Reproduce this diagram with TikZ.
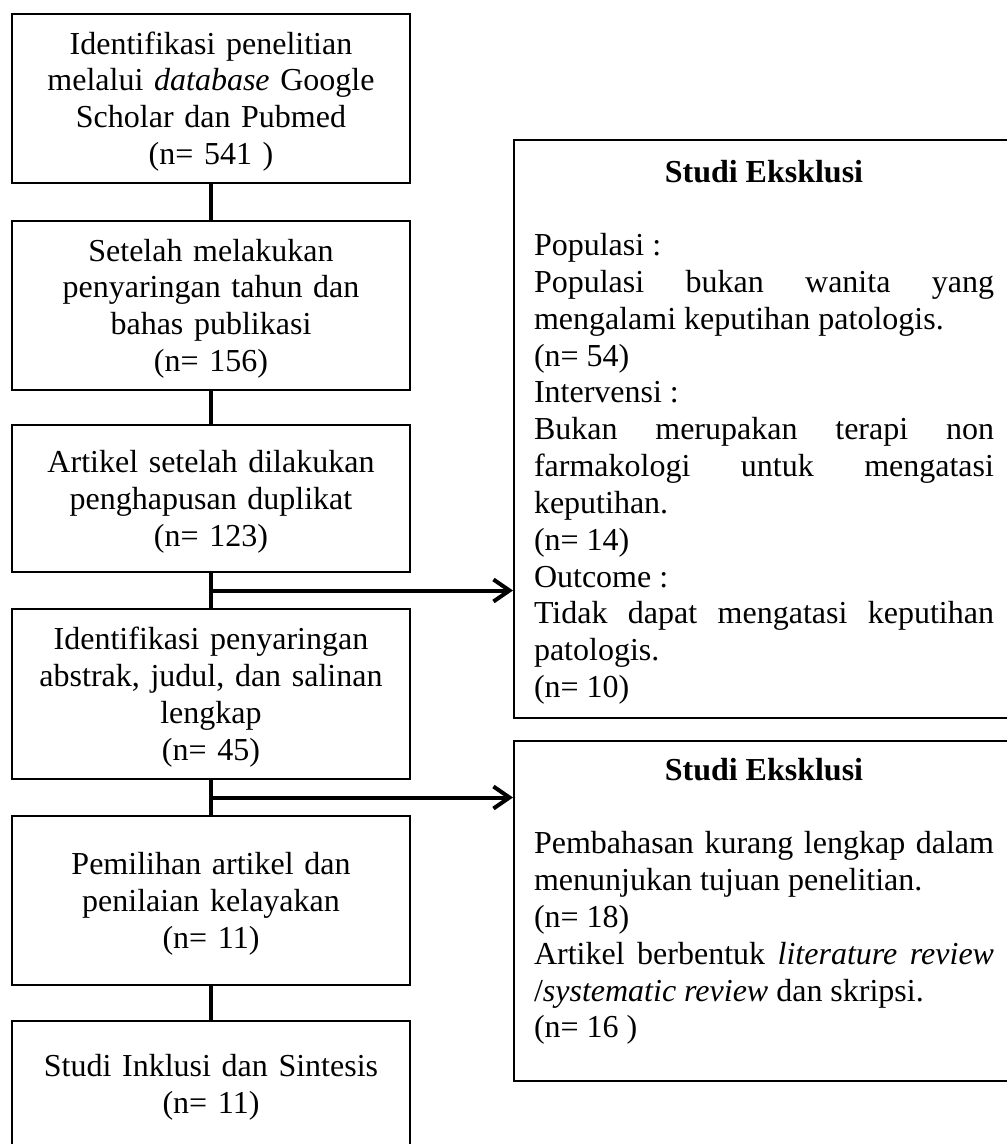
\documentclass[tikz,border=0pt]{standalone}
\usepackage{fontspec}
\setmainfont{Liberation Serif}[Ligatures=CommonOff]
\usetikzlibrary{arrows.meta}
\newcommand{\topstrut}{\rule{0pt}{0.891em}}
\newcommand{\botstrut}{\rule[-0.216em]{0pt}{0.216em}}

\begin{document}
\begin{tikzpicture}[x=0.5pt,y=-0.5pt,font=\fontsize{16}{18.4}\selectfont,
    stagebox/.style={draw, line width=1pt, inner sep=0pt, minimum width=199pt,
      text width=185pt, align=center,
      execute at begin node=\topstrut, execute at end node=\botstrut},
    exbox/.style={draw, line width=1pt, anchor=north west, inner xsep=10pt, inner ysep=0pt,
      text width=230pt, align=justify,
      execute at begin node=\topstrut, execute at end node=\botstrut},
    link/.style={line width=2pt},
    arr/.style={-{Straight Barb[length=8pt,width=11pt]}}]
          \useasboundingbox (0,0) rectangle (1006,1144);
          % left column
          \node[stagebox, minimum height=84.5pt] (b1) at (211,98.5)
            {Identifikasi penelitian\\ melalui \textit{database} Google\\ Scholar dan Pubmed\\ (n= 541 )};
          \node[stagebox, minimum height=84.5pt] (b2) at (211,305.5)
            {Setelah melakukan\\ penyaringan tahun dan\\ bahas publikasi\\ (n= 156)};
          \node[stagebox, minimum height=73.5pt] (b3) at (211,498.5)
            {Artikel setelah dilakukan\\ penghapusan duplikat\\ (n= 123)};
          \node[stagebox, minimum height=85pt] (b4) at (211,694)
            {Identifikasi penyaringan\\ abstrak, judul, dan salinan\\ lengkap\\ (n= 45)};
          \node[stagebox, minimum height=84.5pt] (b5) at (211,900.5)
            {Pemilihan artikel dan\\ penilaian kelayakan\\ (n= 11)};
          \node[stagebox, minimum height=63pt] (b6) at (211,1084)
            {Studi Inklusi dan Sintesis\\ (n= 11)};
          % excluded studies
          \node[exbox, minimum height=289pt] (exA) at (513,139)
            {\makebox[\hsize]{\bfseries Studi Eksklusi}\\[18.4pt]
             Populasi :\\
             Populasi bukan wanita yang\linebreak
             mengalami keputihan patologis.\\
             (n= 54)\\
             Intervensi :\\
             Bukan merupakan terapi non\linebreak
             farmakologi untuk mengatasi\linebreak
             keputihan.\\
             (n= 14)\\
             Outcome :\\
             Tidak dapat mengatasi keputihan\linebreak
             patologis.\\
             (n= 10)};
          \node[exbox, minimum height=170pt] (exB) at (513,740)
            {\makebox[\hsize]{\bfseries Studi Eksklusi}\\[18.4pt]
             Pembahasan kurang lengkap dalam\linebreak
             menunjukan tujuan penelitian.\\
             (n= 18)\\
             Artikel berbentuk \textit{literature review}\linebreak
             /\textit{systematic review} dan skripsi.\\
             (n= 16 )\rule[-16.25pt]{0pt}{16.25pt}};
          % connectors
          \draw[link] (b1) -- (b2);
          \draw[link] (b2) -- (b3);
          \draw[link] (b3) -- coordinate (m1) (b4);
          \draw[link] (b4) -- coordinate (m2) (b5);
          \draw[link] (b5) -- (b6);
          \draw[link,arr] (m1) -- (m1 -| exA.west);
          \draw[link,arr] (m2) -- (m2 -| exB.west);
\end{tikzpicture}
\end{document}
